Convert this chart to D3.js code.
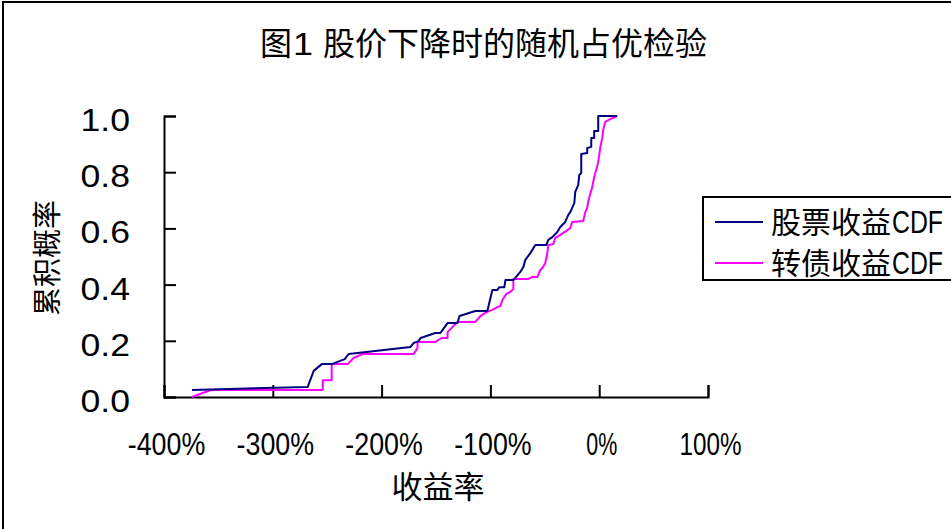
<!DOCTYPE html>
<html>
<head>
<meta charset="utf-8">
<script src="https://cdn.jsdelivr.net/npm/d3@7/dist/d3.min.js"></script>
<style>
  html, body { margin: 0; padding: 0; background: #fff; }
  svg { display: block; }
  text { fill: #000; }
  .cjk { font-family: "Noto Sans CJK SC", "Noto Sans CJK JP", sans-serif; }
  .lat { font-family: "Liberation Sans", Arial, sans-serif; }
</style>
</head>
<body>
<script>
// Empirical CDFs of returns (%) when the stock price falls
const stockReturn = [-374.3, -267.9, -262.4, -255.0, -245.9, -233.9, -230.3, -173.4, -170.6, -166.1, -164.2,
  -150.5, -145.9, -139.4, -130.3, -128.4, -113.8, -102.8, -98.2, -93.6, -91.7, -87.2, -86.2, -78.9,
  -72.5, -69.7, -67.9, -63.3, -58.7, -48.6, -46.8, -43.1, -38.5, -35.8, -31.2, -28.4, -26.6, -22.9,
  -22.0, -19.3, -18.3, -16.5, -16.5, -11.0, -11.0, -7.3, -7.3, -4.6, -4.6, -0.9, -0.9, 16.5];
const stockCdf = [0.025, 0.036, 0.093, 0.117, 0.117, 0.135, 0.153, 0.178, 0.192, 0.199, 0.210,
  0.228, 0.228, 0.263, 0.263, 0.288, 0.306, 0.306, 0.381, 0.381, 0.391, 0.391, 0.416, 0.416,
  0.445, 0.463, 0.488, 0.512, 0.541, 0.541, 0.559, 0.569, 0.587, 0.605, 0.623, 0.648, 0.658, 0.690,
  0.730, 0.754, 0.790, 0.797, 0.865, 0.868, 0.886, 0.890, 0.922, 0.922, 0.947, 0.947, 1.0, 1.0];

const bondReturn = [-374.3, -356.9, -254.1, -254.1, -245.9, -245.9, -231.2, -225.7, -217.4, -170.6, -167.0,
  -167.0, -150.5, -145.0, -139.4, -139.4, -133.9, -130.3, -113.8, -109.2, -103.7, -98.2, -93.6, -90.8,
  -89.0, -85.3, -81.7, -78.9, -78.9, -65.1, -61.5, -56.9, -54.1, -52.3, -49.5, -47.7, -46.8, -42.2,
  -40.4, -35.8, -33.0, -26.6, -24.8, -14.7, -12.8, -11.0, -10.1, -8.3, -6.4, -5.5, -4.6, -1.8, -0.9,
  0.9, 2.8, 3.7, 5.5, 10.1, 16.5];
const bondCdf = [0.000, 0.025, 0.025, 0.060, 0.060, 0.117, 0.117, 0.139, 0.153, 0.153, 0.174,
  0.196, 0.196, 0.210, 0.210, 0.231, 0.253, 0.267, 0.267, 0.288, 0.302, 0.310, 0.320, 0.324,
  0.345, 0.367, 0.374, 0.384, 0.420, 0.420, 0.427, 0.427, 0.452, 0.459, 0.477, 0.512, 0.541, 0.544,
  0.566, 0.577, 0.584, 0.601, 0.623, 0.626, 0.658, 0.673, 0.694, 0.722, 0.747, 0.765, 0.783, 0.822, 0.836,
  0.886, 0.922, 0.950, 0.979, 0.989, 1.0];

const xTicks = [-400, -300, -200, -100, 0, 100];
const yTicks = [0, 0.2, 0.4, 0.6, 0.8, 1.0];

const seriesNames = ["股票收益CDF", "转债收益CDF"];
const seriesColors = ["#000080", "#FF00FF"];
const titleHead = "图", titleNum = "1 ", titleRest = "股价下降时的随机占优检验";
const xTitle = "收益率";
const yTitle = "累积概率";

const W = 951, H = 529;
const HALF = 15.5;   // half-width cell for Latin glyphs

// Latin text is drawn in half-width cells, as in a CJK UI font
function halfWidth(sel, cell) {
  sel.each(function() {
    const t = d3.select(this);
    const n = t.text().length;
    t.attr("textLength", n * (cell || HALF)).attr("lengthAdjust", "spacingAndGlyphs");
  });
}

const svg = d3.select("body").append("svg").attr("width", W).attr("height", H);

// chart frame
svg.append("rect").attr("x", 3).attr("y", 2).attr("width", 960).attr("height", 540)
  .attr("fill", "#fff").attr("stroke", "#000").attr("stroke-width", 2);

const x = d3.scaleLinear().domain([-400, 100]).range([164, 708]);
const y = d3.scaleLinear().domain([0, 1]).range([397, 116]);

// title
const tt = svg.append("text").attr("x", 260).attr("y", 55).attr("font-size", 32);
tt.append("tspan").attr("class", "cjk").text(titleHead);
tt.append("tspan").attr("class", "lat").attr("x", 293).text(titleNum)
  .attr("textLength", 30).attr("lengthAdjust", "spacingAndGlyphs").style("white-space", "pre");
tt.append("tspan").attr("class", "cjk").attr("x", 323).text(titleRest);

// x axis
const xAxis = d3.axisBottom(x).tickValues(xTicks).tickSize(-12).tickPadding(0).tickFormat(d => d + "%");
const gx = svg.append("g").attr("transform", `translate(0,${y(0)})`).call(xAxis);
gx.select(".domain").attr("stroke", "#000").attr("stroke-width", 2);
gx.selectAll(".tick line").attr("stroke", "#000").attr("stroke-width", 2);
gx.selectAll(".tick text").attr("class", "lat").attr("font-size", 32).attr("dy", 0).attr("y", 58)
  .attr("x", 2).attr("fill", "#000").call(halfWidth);

// y axis
const yAxis = d3.axisLeft(y).tickValues(yTicks).tickSize(-12).tickPadding(0).tickFormat(d3.format(".1f"));
const gy = svg.append("g").attr("transform", `translate(${x(-400)},0)`).call(yAxis);
gy.select(".domain").attr("stroke", "#000").attr("stroke-width", 2);
gy.selectAll(".tick line").attr("stroke", "#000").attr("stroke-width", 2);
gy.selectAll(".tick text").attr("class", "lat").attr("font-size", 32).attr("x", -34).attr("dy", "0.45em")
  .attr("fill", "#000").call(halfWidth, 16.5);

// axis titles
svg.append("text").attr("class", "cjk").attr("x", 438).attr("y", 498)
  .attr("text-anchor", "middle").attr("font-size", 31).text(xTitle);
svg.append("text").attr("class", "cjk")
  .attr("transform", "translate(58,258) rotate(-90)")
  .attr("text-anchor", "middle").attr("font-size", 29).text(yTitle);

// CDF lines
const series = [
  { name: seriesNames[0], color: seriesColors[0], pts: stockReturn.map((v, i) => [v, stockCdf[i]]) },
  { name: seriesNames[1], color: seriesColors[1], pts: bondReturn.map((v, i) => [v, bondCdf[i]]) }
];
const line = d3.line().x(d => x(d[0])).y(d => y(d[1]));
// bond first so the stock line sits on top
[series[1], series[0]].forEach(s => {
  svg.append("path").datum(s.pts).attr("d", line)
    .attr("fill", "none").attr("stroke", s.color).attr("stroke-width", 2)
    .attr("stroke-linejoin", "round");
});

// legend
const lg = svg.append("g");
lg.append("rect").attr("x", 703).attr("y", 197).attr("width", 260).attr("height", 83)
  .attr("fill", "#fff").attr("stroke", "#000").attr("stroke-width", 2);
series.forEach((s, i) => {
  const ly = 222 + i * 41;
  lg.append("line").attr("x1", 715).attr("x2", 763).attr("y1", ly).attr("y2", ly)
    .attr("stroke", s.color).attr("stroke-width", 2);
  const t = lg.append("text").attr("x", 771).attr("y", ly + 11).attr("font-size", 30);
  t.append("tspan").attr("class", "cjk").text(s.name.replace("CDF", ""));
  t.append("tspan").attr("class", "lat").attr("x", 892).attr("font-size", 31).text("CDF")
    .attr("textLength", 51).attr("lengthAdjust", "spacingAndGlyphs");
});
</script>
</body>
</html>
